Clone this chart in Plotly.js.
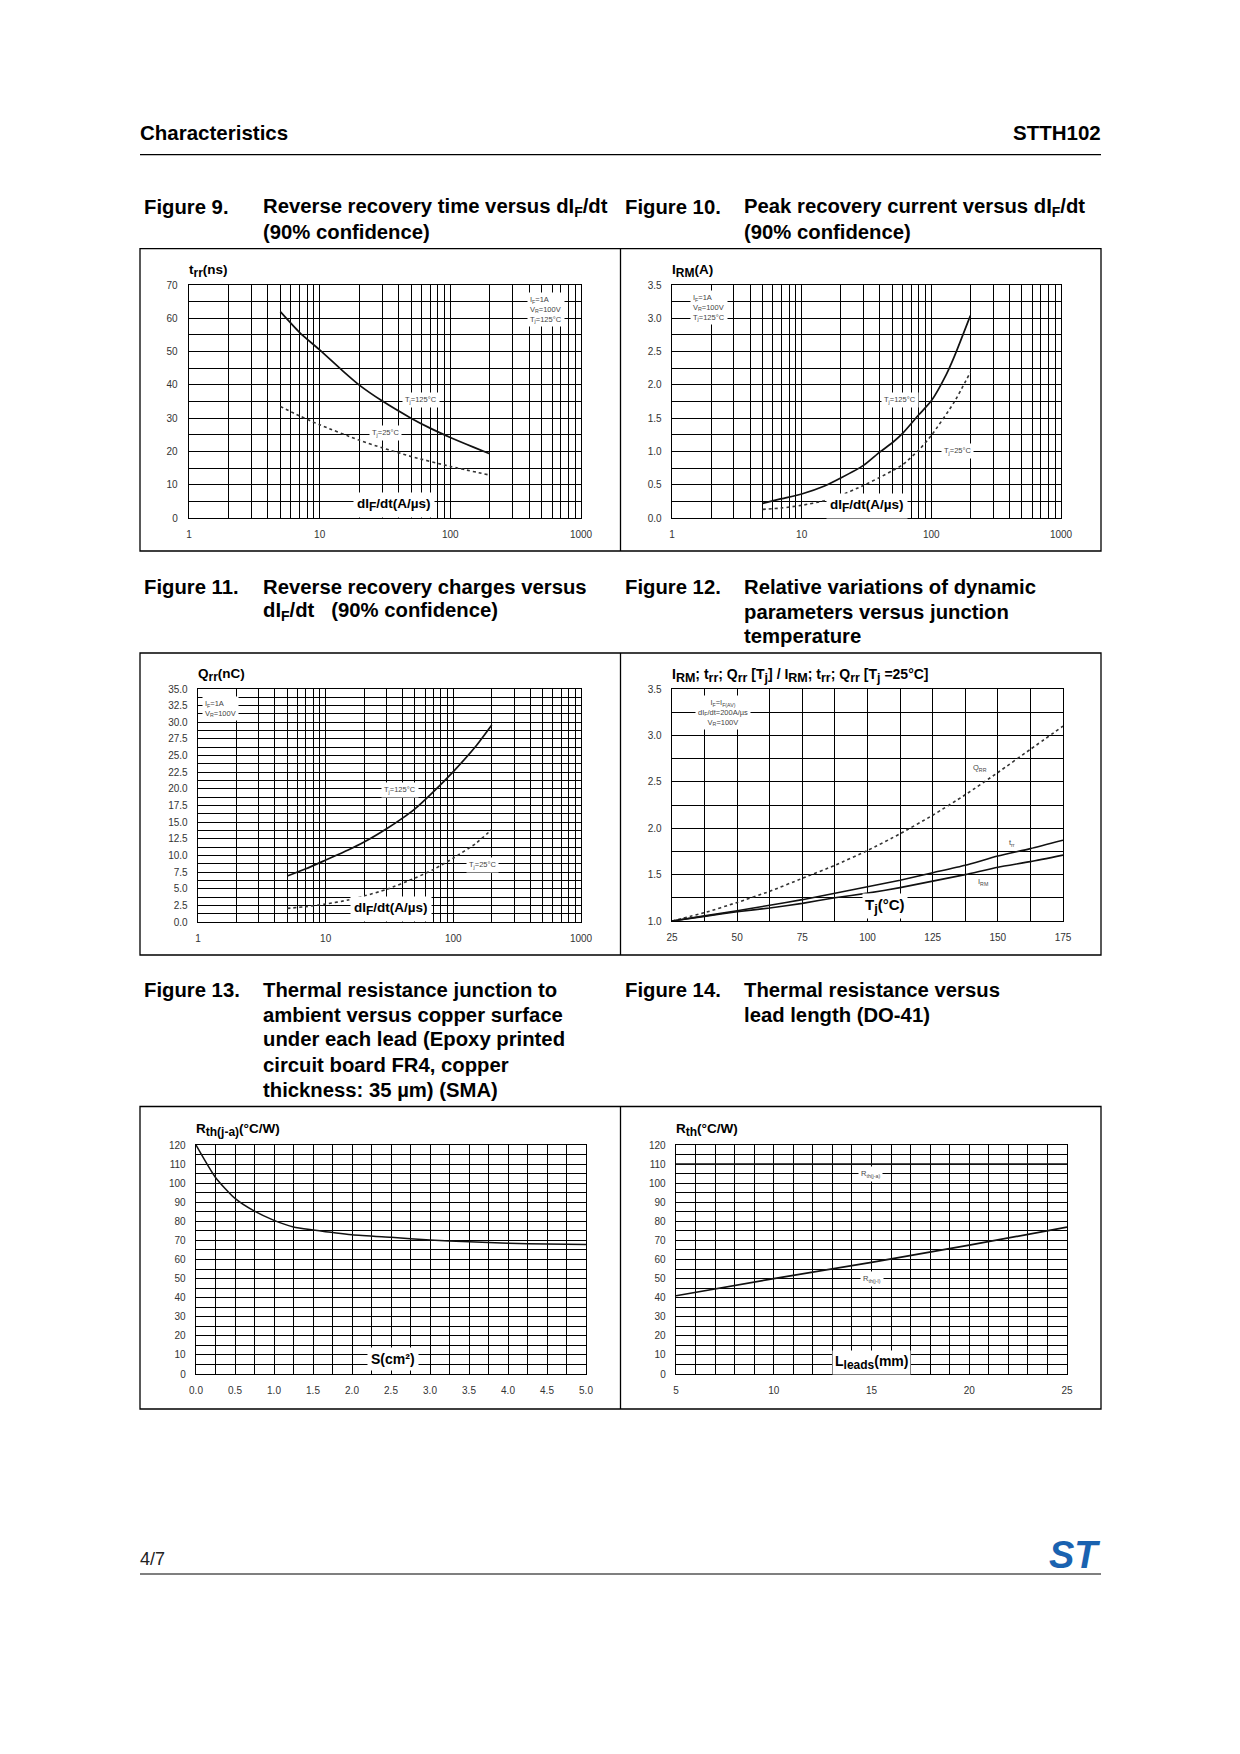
<!DOCTYPE html>
<html><head><meta charset="utf-8">
<script src="https://cdn.plot.ly/plotly-3.0.1.min.js"></script>
<style>html,body{margin:0;padding:0;background:#fff}</style>
</head><body><div id="page" style="width:1240px;height:1754px"></div>
<script>
// ---------- DATA ----------
// Figure 9: trr (ns) vs dIF/dt (A/us)
const f9_x125 = [5, 7, 10, 15, 20, 30, 50, 70, 100, 150, 200];
const f9_y125 = [62, 55.8, 50.5, 44.2, 40, 35.2, 30, 27, 24.2, 21.3, 19.3];
const f9_x25 = [5, 7, 10, 20, 30, 50, 100, 200];
const f9_y25 = [33.5, 30.7, 28, 23.4, 21.1, 18.5, 15.5, 12.9];
// Figure 10: IRM (A) vs dIF/dt
const f10_x125 = [5, 7, 10, 15, 20, 30, 40, 50, 60, 80, 100, 130, 150, 200];
const f10_y125 = [0.22, 0.29, 0.36, 0.48, 0.6, 0.79, 0.99, 1.13, 1.27, 1.55, 1.76, 2.15, 2.42, 3.04];
const f10_x25 = [5, 7, 10, 15, 20, 30, 40, 50, 60, 80, 100, 150, 200];
const f10_y25 = [0.13, 0.15, 0.19, 0.26, 0.34, 0.49, 0.61, 0.71, 0.8, 1.02, 1.24, 1.74, 2.19];
// Figure 11: Qrr (nC) vs dIF/dt
const f11_x125 = [5, 7, 10, 15, 20, 30, 40, 50, 70, 100, 150, 200];
const f11_y125 = [6.9, 8.0, 9.3, 10.8, 12.0, 14.0, 15.6, 17.0, 19.6, 22.6, 26.4, 29.6];
const f11_x25 = [5, 7, 10, 15, 20, 30, 50, 70, 100, 150, 200];
const f11_y25 = [2.05, 2.3, 2.7, 3.3, 3.9, 4.9, 6.6, 7.9, 9.6, 11.8, 13.9];
// Figure 12: relative variations vs Tj
const f12_tj = [25, 37.5, 50, 62.5, 75, 87.5, 100, 112.5, 125, 137.5, 150, 162.5, 175];
const f12_qrr = [1.0, 1.09, 1.2, 1.32, 1.46, 1.6, 1.76, 1.94, 2.14, 2.36, 2.6, 2.85, 3.1];
const f12_trr = [1.0, 1.055, 1.11, 1.17, 1.23, 1.3, 1.37, 1.44, 1.52, 1.6, 1.7, 1.78, 1.87];
const f12_irm = [1.0, 1.05, 1.1, 1.14, 1.19, 1.25, 1.3, 1.36, 1.43, 1.5, 1.58, 1.64, 1.71];
// Figure 13: Rth(j-a) vs copper surface S (cm2)
const f13_s = [0, 0.25, 0.5, 0.75, 1, 1.25, 1.5, 2, 2.5, 3, 3.5, 4, 4.5, 5];
const f13_r = [120, 103, 92, 85.3, 80.5, 77, 75.5, 73, 71.6, 70.2, 69.3, 68.5, 68.1, 67.8];
// Figure 14: Rth vs lead length (mm)
const f14_lja = [5, 25];
const f14_rja = [110, 110];
const f14_ljl = [5, 10, 15, 20, 25];
const f14_rjl = [41, 50, 58.5, 67.5, 77];
// tick labels
const logTickVals = [1, 10, 100, 1000];
const logTickText = ['1', '10', '100', '1000'];

// ---------- LAYOUT HELPERS ----------
const W = 1240, H = 1754;
const F = 'Liberation Sans, Arial, Helvetica, sans-serif';
const PX = v => v / W, PY = v => 1 - v / H;
const logMinor = [];
for (let k = 0; k < 3; k++) for (let d = 2; d <= 9; d++) logMinor.push(d * Math.pow(10, k));

function xax(l, r, anchor, extra) {
  return Object.assign({
    domain: [PX(l), PX(r)], anchor: anchor, showline: true, mirror: true,
    linecolor: '#000', linewidth: 1.3, showgrid: true, gridcolor: '#000', gridwidth: 1,
    zeroline: false, ticks: 'outside', ticklen: 7, tickcolor: 'rgba(0,0,0,0)',
    tickfont: {family: F, size: 10, color: '#333'}, fixedrange: true
  }, extra);
}
function yax(t, b, anchor, extra) {
  return Object.assign({
    domain: [PY(b), PY(t)], anchor: anchor, showline: true, mirror: true,
    linecolor: '#000', linewidth: 1.3, showgrid: true, gridcolor: '#000', gridwidth: 1,
    zeroline: false, ticks: 'outside', ticklen: 7, tickcolor: 'rgba(0,0,0,0)',
    tickfont: {family: F, size: 10, color: '#333'}, fixedrange: true
  }, extra);
}
const mg = {showgrid: true, gridcolor: '#000', gridwidth: 1, ticks: ''};
const logX = {type: 'log', range: [0, 3], tickmode: 'array', tickvals: logTickVals, ticktext: logTickText,
  minor: Object.assign({tickmode: 'array', tickvals: logMinor}, mg)};
const lin = (lo, hi, dt, mdt, fmt) => ({range: [lo, hi], dtick: dt, tick0: lo, tickformat: fmt || '',
  minor: Object.assign({dtick: mdt, tick0: lo}, mg)});

const solid = {color: '#111', width: 1.7, shape: 'spline', smoothing: 0.6};
const dotted = {color: '#333', width: 1.6, dash: 'dot', shape: 'spline', smoothing: 0.6};
function tr(x, y, n, line) {
  return {x: x, y: y, xaxis: 'x' + (n > 1 ? n : ''), yaxis: 'y' + (n > 1 ? n : ''), mode: 'lines', line: line, hoverinfo: 'skip'};
}
const data = [
  tr(f9_x125, f9_y125, 1, solid), tr(f9_x25, f9_y25, 1, dotted),
  tr(f10_x125, f10_y125, 2, solid), tr(f10_x25, f10_y25, 2, dotted),
  tr(f11_x125, f11_y125, 3, solid), tr(f11_x25, f11_y25, 3, dotted),
  tr(f12_tj, f12_qrr, 4, dotted),
  tr(f12_tj, f12_trr, 4, Object.assign({}, solid, {width: 1.6})),
  tr(f12_tj, f12_irm, 4, Object.assign({}, solid, {width: 1.6})),
  tr(f13_s, f13_r, 5, Object.assign({}, solid, {width: 1.5})),
  tr(f14_lja, f14_rja, 6, {color: '#111', width: 1.7}),
  tr(f14_ljl, f14_rjl, 6, {color: '#111', width: 1.7})
];

// ---------- ANNOTATIONS ----------
const anns = [];
function A(text, x, y, o) {
  o = o || {};
  anns.push(Object.assign({
    text: text, x: PX(x), y: PY(y), xref: 'paper', yref: 'paper', showarrow: false,
    xanchor: o.xa || 'left', yanchor: 'middle', align: o.align || 'left',
    font: {family: F, size: o.size || 20.3, color: o.color || '#000'}
  }, o.bg ? {bgcolor: '#fff', borderpad: o.pad === undefined ? 1 : o.pad} : {}));
}
const sb = (t, s) => '<sub><span style="font-size:' + s + 'px">' + t + '</span></sub>';
// page header / titles
const TX = 260.5, FX = 142, TX2 = 741.5, FX2 = 622.5;
A('<b>Characteristics</b>', 138, 132, {size: 20.5});
A('<b>STTH102</b>', 1103, 132, {size: 20.5, xa: 'right'});
A('<b>Figure 9.</b>', FX, 207);
A('<b>Reverse recovery time versus dI' + sb('F', 14) + '/dt</b>', TX, 207);
A('<b>(90% confidence)</b>', TX, 232);
A('<b>Figure 10.</b>', FX2, 207);
A('<b>Peak recovery current versus dI' + sb('F', 14) + '/dt</b>', TX2, 207);
A('<b>(90% confidence)</b>', TX2, 232);
A('<b>Figure 11.</b>', FX, 587);
A('<b>Reverse recovery charges versus</b>', TX, 587);
A('<b>dI' + sb('F', 14) + '/dt   (90% confidence)</b>', TX, 611.5);
A('<b>Figure 12.</b>', FX2, 587);
A('<b>Relative variations of dynamic</b>', TX2, 587);
A('<b>parameters versus junction</b>', TX2, 611.5);
A('<b>temperature</b>', TX2, 636);
A('<b>Figure 13.</b>', FX, 990);
A('<b>Thermal resistance junction to</b>', TX, 990);
A('<b>ambient versus copper surface</b>', TX, 1014.7);
A('<b>under each lead (Epoxy printed</b>', TX, 1039.4);
A('<b>circuit board FR4, copper</b>', TX, 1065);
A('<b>thickness: 35 µm) (SMA)</b>', TX, 1089.8);
A('<b>Figure 14.</b>', FX2, 990);
A('<b>Thermal resistance versus</b>', TX2, 990);
A('<b>lead length (DO-41)</b>', TX2, 1014.7);
A('4/7', 138, 1559, {size: 18, color: '#222'});
A('<b><i>ST</i></b>', 1102, 1555, {size: 38, xa: 'right', color: '#1a62b0'});

// axis titles
A('<b>t' + sb('rr', 12) + '(ns)</b>', 187, 271, {size: 13.5});
A('<b>I' + sb('RM', 12) + '(A)</b>', 670, 271, {size: 13.5});
A('<b>Q' + sb('rr', 12) + '(nC)</b>', 196, 675, {size: 13.5});
A('<b>I' + sb('RM', 12.5) + '; t' + sb('rr', 12.5) + '; Q' + sb('rr', 12.5) + ' [T' + sb('j', 12.5) + '] / I' + sb('RM', 12.5) + '; t' + sb('rr', 12.5) + '; Q' + sb('rr', 12.5) + ' [T' + sb('j', 12.5) + ' =25°C]</b>', 670, 675, {size: 14});
A('<b>R' + sb('th(j-a)', 12) + '(°C/W)</b>', 194, 1130, {size: 13.5});
A('<b>R' + sb('th', 12) + '(°C/W)</b>', 674, 1130, {size: 13.5});
A('<b>dI' + sb('F', 12) + '/dt(A/µs)</b>', 394, 505, {size: 13.5, xa: 'center', bg: 1, pad: 3});
A('<b>dI' + sb('F', 12) + '/dt(A/µs)</b>', 867, 506, {size: 13.5, xa: 'center', bg: 1, pad: 3});
A('<b>dI' + sb('F', 12) + '/dt(A/µs)</b>', 391, 909, {size: 13.5, xa: 'center', bg: 1, pad: 3});
A('<b>T' + sb('j', 13) + '(°C)</b>', 885, 906, {size: 15, xa: 'center', bg: 1, pad: 2});
A('<b>S(cm²)</b>', 393, 1359, {size: 14, xa: 'center', bg: 1, pad: 3});
A('<b>L' + sb('leads', 12) + '(mm)</b>', 871, 1362, {size: 14, xa: 'center', bg: 1, pad: 2});

// in-plot curve labels
const sm = {size: 7.5, color: '#444', xa: 'center', bg: 1, pad: 2};
A('T<sub>j</sub>=125°C', 421, 400, sm);
A('T<sub>j</sub>=25°C', 385, 433, sm);
A('I<sub>F</sub>=1A<br>V<sub>R</sub>=100V<br>T<sub>j</sub>=125°C', 527, 309, {size: 7.5, color: '#444', bg: 1, pad: 2});
A('T<sub>j</sub>=125°C', 900, 400, sm);
A('T<sub>j</sub>=25°C', 957, 451, sm);
A('I<sub>F</sub>=1A<br>V<sub>R</sub>=100V<br>T<sub>j</sub>=125°C', 690, 308, {size: 7.5, color: '#444', bg: 1, pad: 2});
A('T<sub>j</sub>=125°C', 400, 790, sm);
A('T<sub>j</sub>=25°C', 482, 865, sm);
A('I<sub>F</sub>=1A<br>V<sub>R</sub>=100V', 202, 708, {size: 7.5, color: '#444', bg: 1, pad: 2});
A('I<sub>F</sub>=I<sub>F(AV)</sub><br>dI<sub>F</sub>/dt=200A/µs<br>V<sub>R</sub>=100V', 723, 713, {size: 7.5, color: '#444', xa: 'center', align: 'center', bg: 1, pad: 2});
A('Q<sub>RR</sub>', 980, 768, {size: 7.5, color: '#444', xa: 'center'});
A('t<sub>rr</sub>', 1012, 843, {size: 7.5, color: '#444', xa: 'center'});
A('I<sub>RM</sub>', 983, 882, {size: 7.5, color: '#444', xa: 'center'});
A('R<sub>th(j-a)</sub>', 870, 1174, sm);
A('R<sub>th(j-l)</sub>', 872, 1279, sm);

// ---------- SHAPES ----------
const shapes = [];
function L(x0, y0, x1, y1, w) {
  shapes.push({type: 'line', xref: 'paper', yref: 'paper', x0: PX(x0), y0: PY(y0), x1: PX(x1), y1: PY(y1), line: {color: '#000', width: w || 1.3}});
}
function R(x0, y0, x1, y1) {
  shapes.push({type: 'rect', xref: 'paper', yref: 'paper', x0: PX(x0), y0: PY(y0), x1: PX(x1), y1: PY(y1), line: {color: '#000', width: 1.3}});
}
L(140, 154.6, 1101, 154.6, 1.1);
L(140, 1574, 1101, 1574, 1.1);
[[248.6, 551], [653, 955], [1106.5, 1409]].forEach(r => { R(140, r[0], 1101, r[1]); L(620.5, r[0], 620.5, r[1]); });

const layout = {
  width: W, height: H, margin: {l: 0, r: 0, t: 0, b: 0}, paper_bgcolor: '#fff', plot_bgcolor: '#fff',
  showlegend: false, font: {family: F},
  xaxis: xax(189, 581, 'y', logX),
  yaxis: yax(285, 518, 'x', Object.assign(lin(0, 70, 10, 5), {ticklen: 8})),
  xaxis2: xax(672, 1061, 'y2', logX),
  yaxis2: yax(285, 518, 'x2', lin(0, 3.5, 0.5, 0.25, '.1f')),
  xaxis3: xax(198, 581, 'y3', logX),
  yaxis3: yax(689, 922, 'x3', lin(0, 35, 2.5, 1.25, '.1f')),
  xaxis4: xax(672, 1063, 'y4', lin(25, 175, 25, 12.5)),
  yaxis4: yax(689, 921, 'x4', lin(1, 3.5, 0.5, 0.25, '.1f')),
  xaxis5: xax(196, 586, 'y5', lin(0, 5, 0.5, 0.25, '.1f')),
  yaxis5: yax(1145, 1374, 'x5', lin(0, 120, 10, 5)),
  xaxis6: xax(676, 1067, 'y6', lin(5, 25, 5, 1)),
  yaxis6: yax(1145, 1374, 'x6', lin(0, 120, 10, 5)),
  annotations: anns, shapes: shapes
};
Plotly.newPlot('page', data, layout, {staticPlot: true, displayModeBar: false});
</script></body></html>
